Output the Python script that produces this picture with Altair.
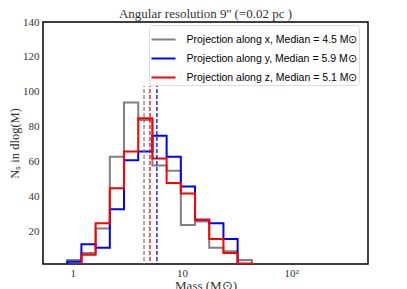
import altair as alt
import pandas as pd

# log10 bin edges (Mass in M_sun)
log_edges = [-0.05, 0.08, 0.21, 0.34, 0.47, 0.60, 0.73, 0.86, 0.99, 1.12, 1.25, 1.38, 1.51, 1.64, 1.77]

series_names = [
    "Projection along x, Median = 4.5 M\u2299",
    "Projection along y, Median = 5.9 M\u2299",
    "Projection along z, Median = 5.1 M\u2299",
]
series_colors = ["#808080", "#0000ff", "#ff0000"]

counts_x = [4, 8, 22, 63, 94, 84, 58, 55, 24, 26, 11, 9, 4, 1]
counts_y = [3, 13, 11, 33, 61, 66, 75, 63, 46, 27, 25, 16, 0, 0]
counts_z = [0, 7, 25, 45, 66, 85, 62, 48, 42, 27, 16, 8, 2, 1]

medians = [4.5, 5.9, 5.1]
median_top = 103.4

x_ticks = [1, 10, 100]
y_ticks = [20, 40, 60, 80, 100, 120, 140]

edges = [10 ** e for e in log_edges]

rows = []
for name, counts in zip(series_names, [counts_x, counts_y, counts_z]):
    pts = [(edges[0], 0)]
    for i, c in enumerate(counts):
        pts.append((edges[i], c))
    pts.append((edges[-1], counts[-1]))
    pts.append((edges[-1], 0))
    for k, (m, n) in enumerate(pts):
        rows.append({"series": name, "mass": m, "n": n, "idx": k})
hist_df = pd.DataFrame(rows)

med_df = pd.DataFrame({"series": series_names, "median": medians, "y0": [0] * 3, "y1": [median_top] * 3})
med_df = med_df.iloc[[0, 2, 1]]

color = alt.Color(
    "series:N",
    scale=alt.Scale(domain=series_names, range=series_colors),
    legend=alt.Legend(
        title=None,
        orient="none",
        legendX=106,
        legendY=3,
        symbolType="stroke",
        symbolSize=576,
        symbolStrokeWidth=2,
        labelFont="Liberation Sans",
        labelFontSize=10.5,
        labelColor="#000",
        labelOffset=10,
        rowPadding=0,
        padding=1.5,
        fillColor="white",
        strokeColor="#dddddd",
        cornerRadius=3,
        labelLimit=300,
    ),
)

xscale = alt.Scale(type="log", domain=[0.535, 505], nice=False)
yscale = alt.Scale(domain=[1.7, 140], nice=False, zero=False)

lines = alt.Chart(hist_df).mark_line(interpolate="step-after", strokeWidth=2, clip=True).encode(
    x=alt.X(
        "mass:Q",
        scale=xscale,
        axis=alt.Axis(
            values=x_ticks,
            labelExpr="datum.value >= 100 ? '10\u00b2' : format(datum.value, 'd')",
            title="Mass (M\u2299)",
            grid=False,
            ticks=False,
            domain=False,
            labelFont="Liberation Serif",
            labelFontSize=11,
            labelColor="#333",
            labelPadding=3,
            titleFont="Liberation Serif",
            titleFontSize=13,
            titleFontWeight="normal",
            titleColor="#333",
            titlePadding=1,
        ),
    ),
    y=alt.Y(
        "n:Q",
        scale=yscale,
        axis=alt.Axis(
            values=y_ticks,
            title="N\u209b in dlog(M)",
            grid=False,
            ticks=False,
            domain=False,
            labelFont="Liberation Serif",
            labelFontSize=11,
            labelColor="#333",
            labelPadding=4,
            titleFont="Liberation Serif",
            titleFontSize=12.5,
            titleFontWeight="normal",
            titleColor="#333",
            titlePadding=1,
        ),
    ),
    color=color,
    order="idx:Q",
)

rules = alt.Chart(med_df).mark_rule(strokeDash=[4, 2], strokeWidth=1.3, clip=True).encode(
    x=alt.X("median:Q", scale=xscale),
    y=alt.Y("y0:Q", scale=yscale),
    y2="y1:Q",
    color=alt.Color("series:N", scale=alt.Scale(domain=series_names, range=series_colors)),
)

chart = (
    alt.layer(lines, rules)
    .properties(
        width=325,
        height=242,
        autosize=alt.AutoSizeParams(type="none"),
        padding={"left": 35, "top": 14, "right": 31, "bottom": 30},
        title=alt.Title(
            "Angular resolution 9'' (=0.02 pc )",
            font="Liberation Serif",
            fontSize=13,
            fontWeight="normal",
            color="#333",
            offset=-5,
        ),
    )
    .configure_view(stroke="black", strokeWidth=1.5)
)

chart.save("out.html", embed_options={"renderer": "svg", "actions": False})
